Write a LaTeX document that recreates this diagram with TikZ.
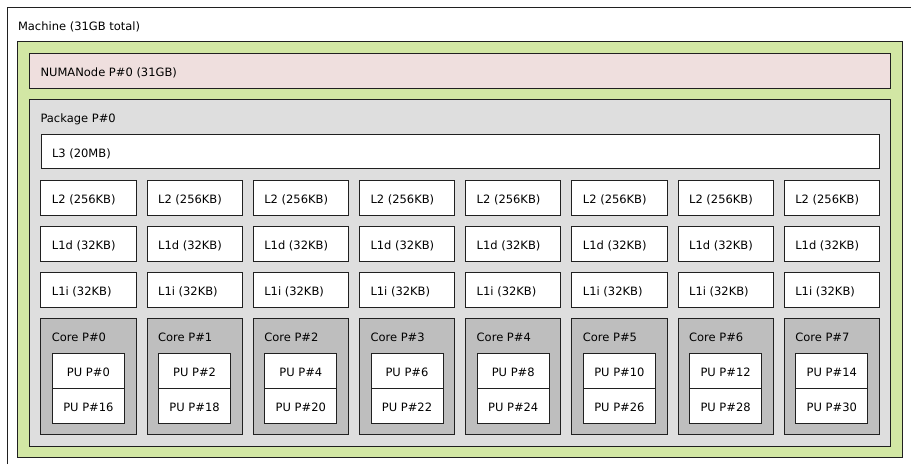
\documentclass[tikz,border=0pt]{standalone}
\usepackage{fontspec}
\setmainfont{DejaVu Sans}
\usetikzlibrary{calc}
\definecolor{machinefill}{HTML}{FFFFFF}
\definecolor{groupfill}{HTML}{D2E7A4}
\definecolor{numafill}{HTML}{EFDFDE}
\definecolor{packagefill}{HTML}{DEDEDE}
\definecolor{corefill}{HTML}{BEBEBE}
\definecolor{cachefill}{HTML}{FFFFFF}
\definecolor{pufill}{HTML}{FFFFFF}
\definecolor{boxline}{HTML}{202020}
\tikzset{
  box/.style={draw=boxline, line width=0.9pt, anchor=north west, inner sep=0pt, outer sep=0pt},
  lbl/.style={anchor=base west, inner sep=0pt, outer sep=0pt, font=\fontsize{11.5}{13}\selectfont},
  clbl/.style={anchor=base, inner sep=0pt, outer sep=0pt, font=\fontsize{11.5}{13}\selectfont},
}
\newcommand\hwobj[6]{% name, x, y, w, h, fill
  \node[box, fill=#6, minimum width=#4pt, minimum height=#5pt] (#1) at (#2,#3) {};}
\newcommand\hwlabel[2]{% name, text
  \node[lbl] (#1-t) at ($(#1.north west)+(11,23.2)$) {#2};}
\begin{document}
\begin{tikzpicture}[x=1pt,y=-1pt]
\fill[white] (0,0) rectangle (911,464);
\useasboundingbox (0,0) rectangle (911,464);
% Machine box: only its top and left edges lie inside the picture
\node[anchor=north west, inner sep=0pt, outer sep=0pt, minimum width=904pt, minimum height=457pt] (machine) at (7,7) {};
\draw[draw=boxline, line width=0.9pt] (machine.south west) -- (machine.north west) -- (machine.north east);
\hwlabel{machine}{Machine (31GB total)}
\hwobj{group}{17.5}{41.5}{885}{415.5}{groupfill}
\hwobj{numa}{29.5}{53.5}{861}{35}{numafill}
\hwlabel{numa}{NUMANode P\#0 (31GB)}
\hwobj{pkg}{29.5}{99.5}{861}{346.5}{packagefill}
\hwlabel{pkg}{Package P\#0}
\hwobj{l3}{41}{134}{838}{34.6}{cachefill}
\hwlabel{l3}{L3 (20MB)}
\foreach \i in {0,...,7}{
  \pgfmathsetmacro\xo{40.9+106.2*\i}
  \pgfmathtruncatemacro\pa{2*\i}
  \pgfmathtruncatemacro\pb{2*\i+16}
  \hwobj{l2-\i}{\xo}{180.7}{95.2}{34.6}{cachefill}
  \hwlabel{l2-\i}{L2 (256KB)}
  \hwobj{l1d-\i}{\xo}{226.7}{95.2}{34.6}{cachefill}
  \hwlabel{l1d-\i}{L1d (32KB)}
  \hwobj{l1i-\i}{\xo}{272.7}{95.2}{34.6}{cachefill}
  \hwlabel{l1i-\i}{L1i (32KB)}
  \hwobj{core-\i}{\xo}{318.7}{95.2}{115.3}{corefill}
  \hwlabel{core-\i}{Core P\#\i}
  \hwobj{pua-\i}{\xo+11.5}{353.3}{72}{35}{pufill}
  \node[clbl] (pua-\i-t) at ($(pua-\i.north)+(0,23.3)$) {PU P\#\pa};
  \hwobj{pub-\i}{\xo+11.5}{388.3}{72}{34.7}{pufill}
  \node[clbl] (pub-\i-t) at ($(pub-\i.north)+(0,23.3)$) {PU P\#\pb};
}
\end{tikzpicture}
\end{document}
